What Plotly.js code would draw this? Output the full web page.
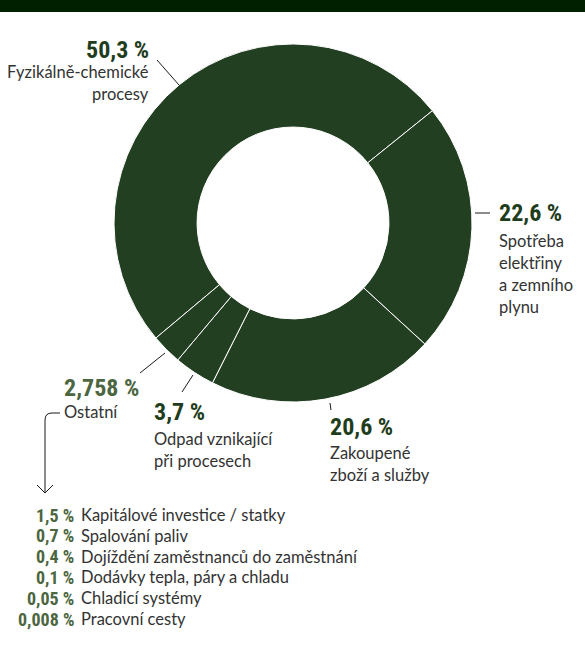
<!DOCTYPE html>
<html>
<head>
<meta charset="utf-8">
<script src="https://cdn.plot.ly/plotly-3.0.1.min.js"></script>
<style>html,body{margin:0;padding:0;background:#fff;}#chart{width:585px;height:650px;}</style>
</head>
<body>
<div id="chart"></div>
<script>
// ---- data ----
var categories = ["Fyzikálně-chemické procesy", "Spotřeba elektřiny a zemního plynu", "Zakoupené zboží a služby", "Odpad vznikající při procesech", "Ostatní"];
var values = [50.3, 22.6, 20.6, 3.7, 2.758];
var labelLines = [
  ["Fyzikálně-chemické", "procesy"],
  ["Spotřeba", "elektřiny", "a zemního", "plynu"],
  ["Zakoupené", "zboží a služby"],
  ["Odpad vznikající", "při procesech"],
  ["Ostatní"]
];
var subCategories = ["Kapitálové investice / statky", "Spalování paliv", "Dojíždění zaměstnanců do zaměstnání", "Dodávky tepla, páry a chladu", "Chladicí systémy", "Pracovní cesty"];
var subValues = [1.5, 0.7, 0.4, 0.1, 0.05, 0.008];

// ---- styles / layout ----
var DONUT = "#233f22";
var DARK_PCT = "#1f3d1c";
var LIGHT_PCT = "#4b6640";
var TEXT = "#333333";
var PCT_FONT = "Liberation Sans Narrow, Roboto Condensed, DejaVu Sans Condensed, Roboto, sans-serif";
var LBL_FONT = "Lato, Open Sans, sans-serif";
var W = 585, H = 650;
var cx = 293, cy = 223, R = 179;

function fmt(v) { return String(v).replace(".", ",") + " %"; }

// label placements (pixel coords): anchor x, alignment, percent center y, first line y
var place = [
  {x: 151, align: "right", py: 50, ly: 72, pctColor: DARK_PCT},
  {x: 497, align: "left", py: 213, ly: 241, pctColor: DARK_PCT},
  {x: 328, align: "left", py: 427, ly: 453, pctColor: DARK_PCT},
  {x: 152, align: "left", py: 412, ly: 439, pctColor: DARK_PCT},
  {x: 62, align: "left", py: 388, ly: 412, pctColor: LIGHT_PCT}
];
var LINE_H = 22;

var annotations = [];
values.forEach(function (v, i) {
  var p = place[i];
  annotations.push({x: p.x, y: p.py, xref: "x", yref: "y", text: "<b>" + fmt(v) + "</b>",
    showarrow: false, xanchor: p.align, yanchor: "middle",
    font: {family: PCT_FONT, size: 24, color: p.pctColor}});
  labelLines[i].forEach(function (t, j) {
    annotations.push({x: p.x, y: p.ly + j * LINE_H, xref: "x", yref: "y", text: t,
      showarrow: false, xanchor: p.align, yanchor: "middle",
      font: {family: LBL_FONT, size: 16.5, color: TEXT}});
  });
});
subValues.forEach(function (v, i) {
  var y = 515 + i * 20.8;
  annotations.push({x: 76, y: y, xref: "x", yref: "y", text: "<b>" + fmt(v) + "</b>",
    showarrow: false, xanchor: "right", yanchor: "middle",
    font: {family: PCT_FONT, size: 18, color: LIGHT_PCT}});
  annotations.push({x: 79, y: y, xref: "x", yref: "y", text: subCategories[i],
    showarrow: false, xanchor: "left", yanchor: "middle",
    font: {family: LBL_FONT, size: 16.5, color: TEXT}});
});

var leaders = [
  [157, 60, 179, 85],
  [475, 213, 490, 213],
  [330, 403, 331, 410],
  [182, 392, 193, 375],
  [140, 373, 165, 353]
];
var shapes = [{type: "rect", xref: "x", yref: "y", x0: 0, x1: W, y0: 0, y1: 12,
  fillcolor: "#002000", line: {width: 0}, layer: "above"}];
leaders.forEach(function (l) {
  shapes.push({type: "line", xref: "x", yref: "y", x0: l[0], y0: l[1], x1: l[2], y1: l[3],
    line: {color: "#1a1a1a", width: 1}});
});
shapes.push({type: "path", xref: "x", yref: "y",
  path: "M 60 413 L 52 413 Q 45 413 45 420 L 45 493 M 37 485 L 45 493 L 53 485",
  line: {color: "#1a1a1a", width: 1}});

var pie = {
  type: "pie", labels: categories, values: values, sort: false,
  direction: "clockwise", rotation: 230, hole: 0.536,
  textinfo: "none", hoverinfo: "label+percent",
  marker: {colors: values.map(function () { return DONUT; }), line: {color: "#ffffff", width: 1}},
  domain: {x: [(cx - R) / W, (cx + R) / W], y: [(H - cy - R) / H, (H - cy + R) / H]},
  showlegend: false
};

var layout = {
  width: W, height: H, margin: {l: 0, r: 0, t: 0, b: 0},
  paper_bgcolor: "#ffffff", plot_bgcolor: "rgba(0,0,0,0)",
  xaxis: {range: [0, W], visible: false, fixedrange: true},
  yaxis: {range: [H, 0], visible: false, fixedrange: true},
  annotations: annotations, shapes: shapes, showlegend: false
};
Plotly.newPlot("chart", [pie], layout, {displayModeBar: false, staticPlot: true});
</script>
</body>
</html>
